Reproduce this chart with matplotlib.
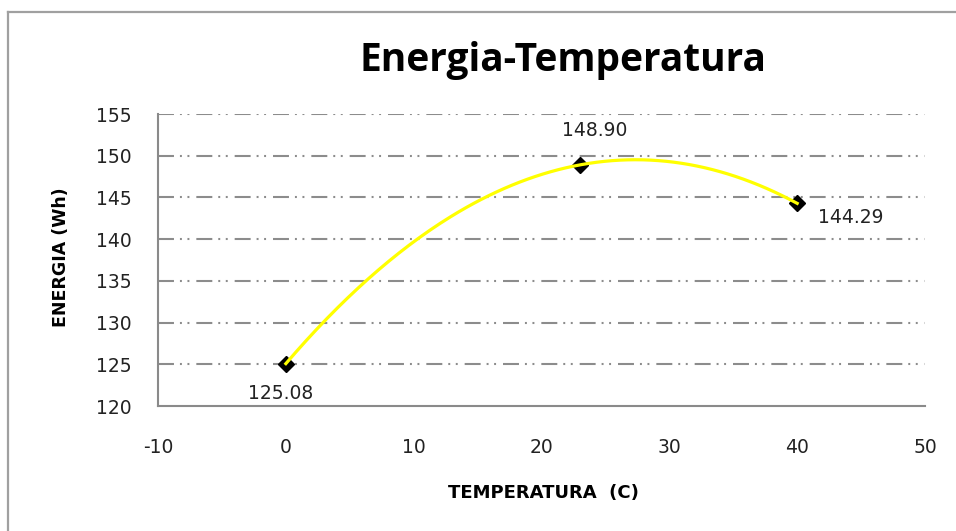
import matplotlib
matplotlib.use("Agg")
import numpy as np
import matplotlib.pyplot as plt
from matplotlib.lines import Line2D

# data
temperatura = [0, 23, 40]
energia = [125.08, 148.90, 144.29]
point_labels = ["125.08", "148.90", "144.29"]
x_ticks = [-10, 0, 10, 20, 30, 40, 50]
y_ticks = [120, 125, 130, 135, 140, 145, 150, 155]

plt.rcParams["lines.scale_dashes"] = False
plt.rcParams["axes.unicode_minus"] = False

fig = plt.figure(figsize=(9.56, 5.31), dpi=100)
ax = fig.add_axes([0.1653, 0.2354, 0.8023, 0.5499])

# outer chart frame (only left and top visible)
fig.add_artist(Line2D([8 / 956, 8 / 956], [0, 1 - 12 / 531], transform=fig.transFigure,
                      color="#a0a0a0", lw=1.6))
fig.add_artist(Line2D([8 / 956, 1], [1 - 12 / 531, 1 - 12 / 531], transform=fig.transFigure,
                      color="#a0a0a0", lw=1.6))

ax.set_xlim(x_ticks[0], x_ticks[-1])
ax.set_ylim(y_ticks[0], y_ticks[-1])
ax.set_xticks(x_ticks)
ax.set_yticks(y_ticks)

grid_style = (0, (11.5, 4.3, 1.4, 4.0, 1.4, 5.0))
for yv in y_ticks[1:]:
    ax.axhline(yv, color="#8c8c8c", lw=1.5, linestyle=grid_style, zorder=1)

for side in ["top", "right"]:
    ax.spines[side].set_visible(False)
for side in ["left", "bottom"]:
    ax.spines[side].set_color("#8a8a8a")
    ax.spines[side].set_linewidth(1.5)

ax.tick_params(length=0, labelsize=13.5, colors="#222222")
ax.tick_params(axis="y", pad=19)
ax.tick_params(axis="x", pad=23)

# 2nd order polynomial trendline through the points
coef = np.polyfit(temperatura, energia, 2)
xs = np.linspace(min(temperatura), max(temperatura), 200)
ax.plot(temperatura, energia, linestyle="none", marker="D", markersize=8,
        color="black", zorder=3)
ax.plot(xs, np.polyval(coef, xs), color="#ffff00", lw=2.3, zorder=4)

label_offsets = [(-3.6, -21.2), (10.8, 25.0), (38.9, -10.1)]
for xv, yv, txt, off in zip(temperatura, energia, point_labels, label_offsets):
    ax.annotate(txt, (xv, yv), xytext=off, textcoords="offset points",
                ha="center", va="center", fontsize=13.5, color="#222222",
                annotation_clip=False)

fig.text(0.589, 0.887, "Energia-Temperatura", ha="center", va="center",
         fontsize=28, fontweight="bold", family=["Open Sans", "DejaVu Sans"], color="black")
fig.text(0.568, 0.0716, "TEMPERATURA  (C)", ha="center", va="center",
         fontsize=13, fontweight="bold", family=["Liberation Sans Narrow", "DejaVu Sans"],
         color="black")
fig.text(61 / 956, 1 - 257 / 531, "ENERGIA (Wh)", ha="center", va="center", rotation=90,
         fontsize=12.5, fontweight="bold", family=["Liberation Sans Narrow", "DejaVu Sans"],
         color="black")

fig.savefig("out.png", dpi=100)
